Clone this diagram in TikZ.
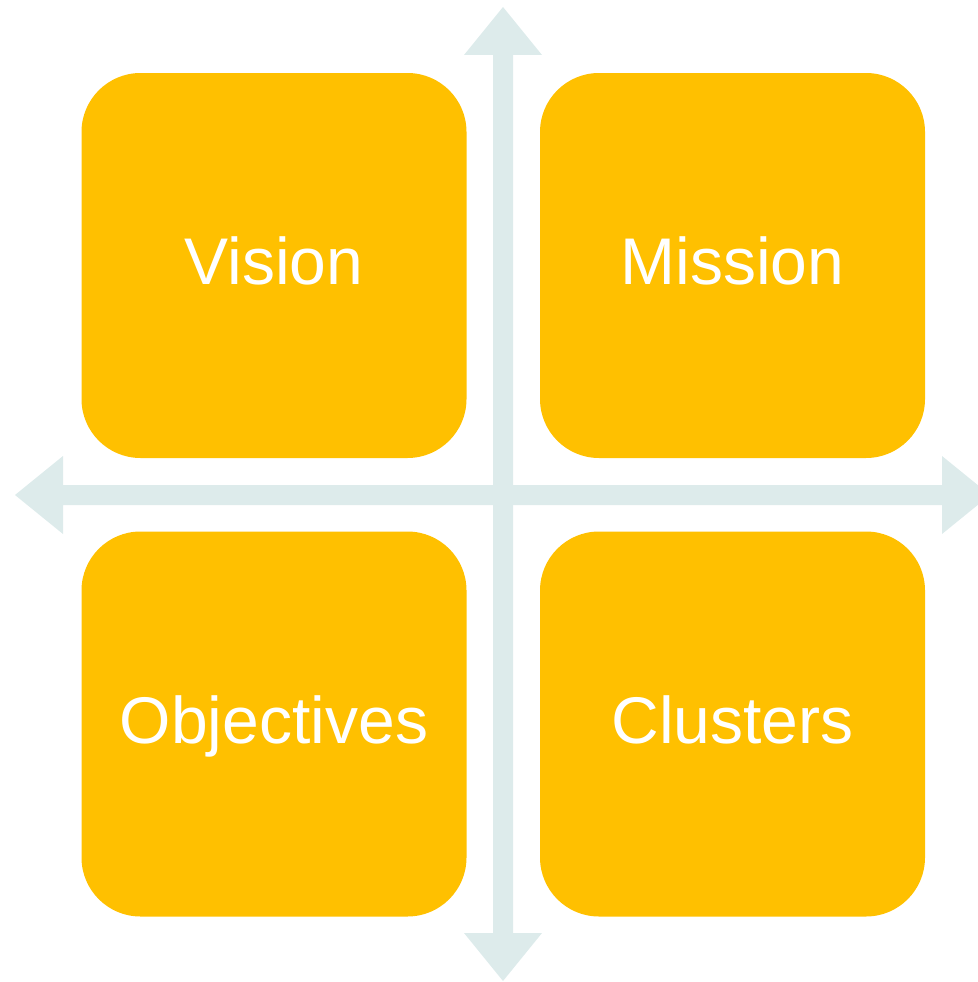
\documentclass[tikz,border=0pt]{standalone}
\usepackage{fontspec}
\setmainfont{Liberation Sans}
\definecolor{boxyellow}{RGB}{255,192,0}
\definecolor{arrowgrey}{RGB}{221,235,235}
\begin{document}
\begin{tikzpicture}[x=1pt,y=-1pt,
  quad/.style={fill=boxyellow, rounded corners=59pt, minimum width=385pt, minimum height=385pt, inner sep=0pt},
  quadtext/.style={anchor=base, inner sep=0pt, text=white, font=\fontsize{66}{70}\selectfont},
  axis/.style={fill=arrowgrey, draw=none}]
\useasboundingbox (0,0) rectangle (977,982);
% vertical double arrow
\fill[axis] (503,7) -- (542,55) -- (513,55) -- (513,933) -- (542,933) -- (503,981)
  -- (464,933) -- (493,933) -- (493,55) -- (464,55) -- cycle;
% horizontal double arrow
\fill[axis] (15,495) -- (63,456) -- (63,485) -- (942,485) -- (942,456) -- (990,495)
  -- (942,534) -- (942,505) -- (63,505) -- (63,534) -- cycle;
\node[quad] (vision) at (274,265.5) {};
\node[quad] (mission) at (732.5,265.5) {};
\node[quad] (objectives) at (274,724) {};
\node[quad] (clusters) at (732.5,724) {};
\node[quadtext] (visiontext) at ([yshift=-18.5pt]vision.center) {Vision};
\node[quadtext] (missiontext) at ([yshift=-18.5pt]mission.center) {Mission};
\node[quadtext] (objectivestext) at ([yshift=-19.5pt]objectives.center) {Objectives};
\node[quadtext] (clusterstext) at ([yshift=-19.5pt]clusters.center) {Clusters};
\end{tikzpicture}
\end{document}
